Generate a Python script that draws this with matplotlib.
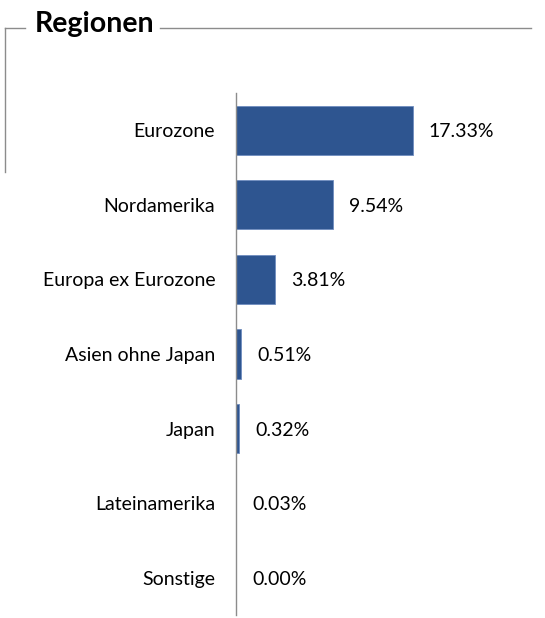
import matplotlib.pyplot as plt
from matplotlib.lines import Line2D

# --------------------------
# Daten
# --------------------------
regionen = ["Eurozone", "Nordamerika", "Europa ex Eurozone", "Asien ohne Japan",
            "Japan", "Lateinamerika", "Sonstige"]
anteile = [17.33, 9.54, 3.81, 0.51, 0.32, 0.03, 0.00]
titel = "Regionen"

BAR_COLOR = "#2E5590"
LINE_COLOR = "#8C8C8C"
W, H = 545, 618

plt.rcParams['font.family'] = ['Lato', 'DejaVu Sans']

fig = plt.figure(figsize=(W / 100, H / 100), dpi=100)
ax = fig.add_axes([236 / W, 1 - 615 / H, (530 - 236) / W, (615 - 93) / H])

y = range(len(regionen))
ax.barh(y, anteile, height=0.66, color=BAR_COLOR, edgecolor="#6F8DBF", linewidth=0.6)
ax.set_ylim(len(regionen) - 0.5, -0.5)
ax.set_xlim(0, 294 / 10.21)

ax.set_yticks(list(y))
ax.set_yticklabels(regionen, fontsize=14, va="center_baseline")
ax.tick_params(axis="y", length=0, pad=15)
ax.set_xticks([])

for s in ["top", "right", "bottom"]:
    ax.spines[s].set_visible(False)
ax.spines["left"].set_color(LINE_COLOR)
ax.spines["left"].set_linewidth(1)

for i, v in enumerate(anteile):
    ax.annotate(f"{v:.2f}%", (v, i), xytext=(16, 0), textcoords="offset pixels",
                va="center_baseline", ha="left", fontsize=14)

# Titel mit Rahmenlinie
fig.text(35 / W, 1 - 24 / H, titel, fontsize=20.5, fontweight="bold",
         ha="left", va="center")
fig.add_artist(Line2D([5 / W, 25 / W], [1 - 28 / H, 1 - 28 / H], color=LINE_COLOR, lw=1))
fig.add_artist(Line2D([160 / W, 531 / W], [1 - 28 / H, 1 - 28 / H], color=LINE_COLOR, lw=1))
fig.add_artist(Line2D([5 / W, 5 / W], [1 - 28 / H, 1 - 172 / H], color=LINE_COLOR, lw=1))

fig.savefig("out.png", dpi=100)
